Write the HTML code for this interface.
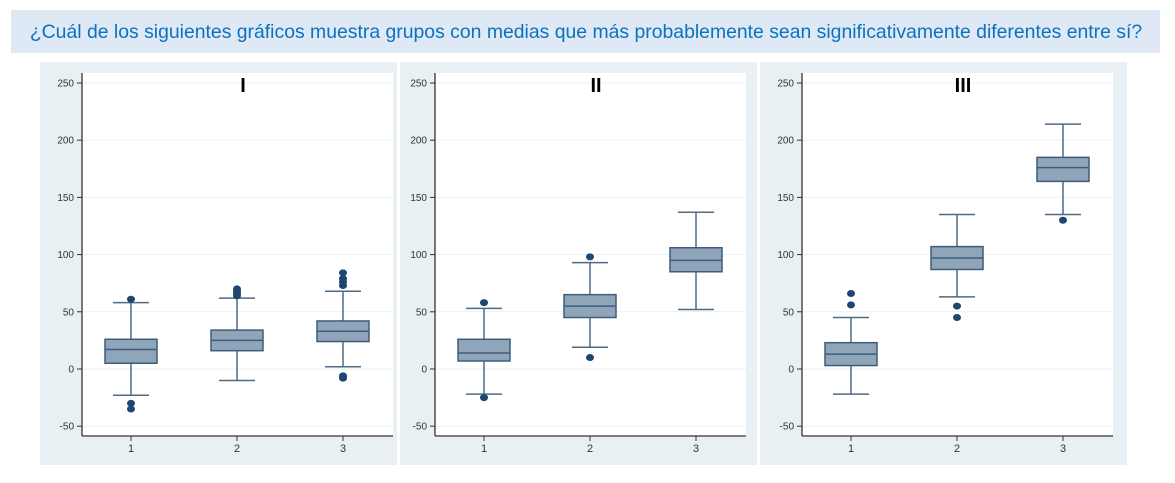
<!DOCTYPE html>
<html><head><meta charset="utf-8"><style>
body{margin:0;background:#fff;width:1175px;height:478px;overflow:hidden;font-family:"Liberation Sans",sans-serif}
</style></head><body>
<svg id="s" width="1175" height="478" xmlns="http://www.w3.org/2000/svg">
<rect x="11" y="10" width="1149" height="43" fill="#dfe9f5"/>
<text x="586" y="38" text-anchor="middle" font-family="Liberation Sans, sans-serif" font-size="19.4" fill="#0b72c0">¿Cuál de los siguientes gráficos muestra grupos con medias que más probablemente sean significativamente diferentes entre sí?</text>
<rect x="40" y="62" width="1087" height="403" fill="#e8f0f3"/>
<rect x="397" y="62" width="3" height="403" fill="#fff"/>
<rect x="757" y="62" width="3" height="403" fill="#fff"/>
<g id="g"></g>
</svg>
<script>
const ns="http://www.w3.org/2000/svg",g=document.getElementById('g');
function el(t,a,txt){const e=document.createElementNS(ns,t);for(const k in a)e.setAttribute(k,a[k]);if(txt!==undefined)e.textContent=txt;g.appendChild(e);return e;}
const Y=v=>369-v*1.144;
const panels=[
 {ax:82,title:"I",data:[[-23,5,17,26,58,[61,-30,-35]],[-10,16,25,34,62,[64,66,68,70]],[2,24,33,42,68,[73,76,79,84,-6,-8]]]},
 {ax:435,title:"II",data:[[-22,7,14,26,53,[58,-25]],[19,45,55,65,93,[98,10]],[52,85,95,106,137,[]]]},
 {ax:802,title:"III",data:[[-22,3,13,23,45,[56,66]],[63,87,97,107,135,[55,45]],[135,164,176,185,214,[130]]]}];
for(const p of panels){
 const a=p.ax;
 el('rect',{x:a,y:73,width:311,height:363,fill:'#fff'});
 for(const v of [-50,0,50,100,150,200,250]){
  const y=Y(v);
  el('line',{x1:a,x2:a+311,y1:y,y2:y,stroke:'#eaf2f4','stroke-width':1});
  el('line',{x1:a-5,x2:a,y1:y,y2:y,stroke:'#333'});
  el('text',{x:a-8,y:y+3.5,'text-anchor':'end','font-size':10,fill:'#333'},String(v));
 }
 el('line',{x1:a,x2:a,y1:73,y2:436,stroke:'#333','stroke-width':1.3});
 el('line',{x1:a,x2:a+311,y1:436,y2:436,stroke:'#333','stroke-width':1.3});
 el('text',{x:a+161,y:92,'text-anchor':'middle','font-size':20,'font-weight':'bold',fill:'#000'},p.title);
 p.data.forEach((d,i)=>{
  const cx=a+49+i*106;
  el('line',{x1:cx,x2:cx,y1:436,y2:441,stroke:'#333'});
  el('text',{x:cx,y:452,'text-anchor':'middle','font-size':11,fill:'#333'},String(i+1));
  const [lo,q1,md,q3,hi,out]=d;
  el('line',{x1:cx,x2:cx,y1:Y(hi),y2:Y(lo),stroke:'#4d6a86','stroke-width':1.5});
  el('line',{x1:cx-18,x2:cx+18,y1:Y(hi),y2:Y(hi),stroke:'#4d6a86','stroke-width':1.5});
  el('line',{x1:cx-18,x2:cx+18,y1:Y(lo),y2:Y(lo),stroke:'#4d6a86','stroke-width':1.5});
  el('rect',{x:cx-26,y:Y(q3),width:52,height:Y(q1)-Y(q3),fill:'#8fa5b9',stroke:'#3f5c7a','stroke-width':1.5});
  el('line',{x1:cx-26,x2:cx+26,y1:Y(md),y2:Y(md),stroke:'#3f5c7a','stroke-width':1.5});
  for(const o of out) el('ellipse',{cx:cx,cy:Y(o),rx:4,ry:3.5,fill:'#1e4670'});
 });
}
</script>
</body></html>
